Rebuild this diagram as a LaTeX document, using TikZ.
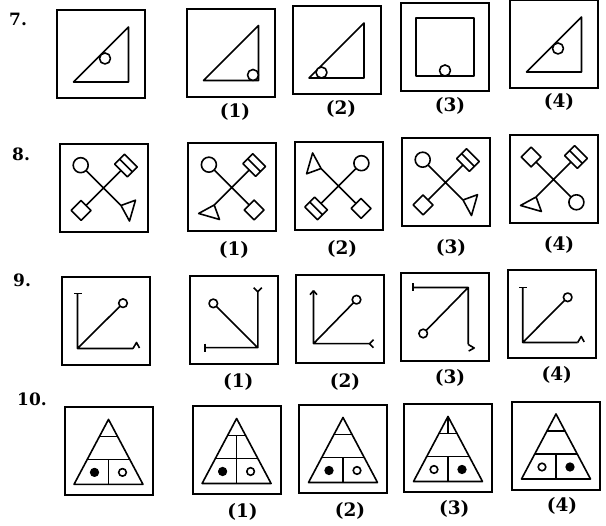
\documentclass[tikz,border=0pt]{standalone}
\usepackage{fontspec}
\setmainfont{DejaVu Serif}
\tikzset{rahmen/.style={draw,line width=2pt,minimum size=88pt,inner sep=0},
  figur/.style={line width=1.6pt,line join=round},
  nummer/.style={anchor=west,inner sep=0,font=\fontsize{17}{20}\selectfont\bfseries},
  antwort/.style={inner sep=0,font=\fontsize{18.5}{22}\selectfont\bfseries},
  voll/.style={fill=black},
  leer/.style={fill=white}}
\newcommand{\feld}[3]{\node[rahmen] (#1) at (#2,#3) {};}
\newcommand{\antwort}[4]{\node[antwort] (#1) at (#2,#3) {(#4)};}
\newcommand{\winkeldreieck}[3]{\begin{scope}[shift={(#1,#2)}]
  \draw[figur] (-27.5,-27.5) -- (27.5,27.5) -- (27.5,-27.5) -- cycle;
  \draw[figur,leer] #3 circle[radius=5.5];
  \end{scope}}
\newcommand{\skreis}{\draw[figur,leer] (7.5,0) circle[radius=7.5];}
\newcommand{\sraute}{\draw[figur] (0,-7) rectangle (14,7);}
\newcommand{\sdoppel}{\draw[figur] (0,-9) rectangle (14,9) (7,-9) -- (7,9);}
\newcommand{\sdreieck}{\draw[figur] (0,0) -- (17,-5) -- (6.5,14) -- cycle;}
\newcommand{\kreuz}[6]{\begin{scope}[shift={(#1,#2)}]
  \draw[figur] (-17.5,17.5) -- (17.5,-17.5) (-17.5,-17.5) -- (17.5,17.5);
  \begin{scope}[shift={(-17.5,17.5)},rotate=135]#3\end{scope}
  \begin{scope}[shift={(17.5,17.5)},rotate=45]#4\end{scope}
  \begin{scope}[shift={(-17.5,-17.5)},rotate=-135]#5\end{scope}
  \begin{scope}[shift={(17.5,-17.5)},rotate=-45]#6\end{scope}
  \end{scope}}
\newcommand{\kappeT}{\draw[figur] (0,-4) -- (0,4);}
\newcommand{\kappeY}{\draw[figur] (0,0) -- (4,4) (0,0) -- (4,-4);}
\newcommand{\kappePfeil}{\draw[figur] (0,0) -- (-4,3.5) (0,0) -- (-4,-3.5);}
\newcommand{\kappeHaken}{\draw[figur] (0,0) -- (3.5,6) -- (6.5,0.5);}
\newcommand{\kappe}[3]{\begin{scope}[shift={#1},rotate=#2]#3\end{scope}}
\newcommand{\pyramide}[5][(0,0)]{\begin{scope}[shift={(#2,#3)}]
  \draw[figur] (0,32) -- (34.5,-33) -- (-34.5,-33) -- cycle;
  \draw[figur] (-9,15) -- (9,15) (-21.2,-8) -- (21.2,-8) (0,-8) -- (0,-33) #1;
  \draw[figur,#4] (-14,-21) circle[radius=3.8];
  \draw[figur,#5] (14,-21) circle[radius=3.8];
  \end{scope}}

\begin{document}
\begin{tikzpicture}[x=1pt,y=1pt]
\useasboundingbox (0,0) rectangle (606,526);
\node[nummer] (n7) at (9,507) {7.};
\feld{q7}{101}{471.5}
\feld{a71}{231}{473}
\feld{a72}{336.5}{475.5}
\feld{a73}{445}{479}
\feld{a74}{554}{481.5}
\winkeldreieck{101}{471.5}{(4,-4)}
\winkeldreieck{231}{473}{(22,-22)}
\winkeldreieck{336.5}{475.5}{(-15,-22)}
\draw[figur] (416,450) rectangle (474,508);
\draw[figur,leer] (445,455.5) circle[radius=5.5];
\winkeldreieck{554}{481.5}{(4,-4)}
\antwort{l71}{235}{414}{1}
\antwort{l72}{341}{417}{2}
\antwort{l73}{450}{420}{3}
\antwort{l74}{559}{424}{4}
\node[nummer] (n8) at (12,372) {8.};
\feld{q8}{103.5}{338}
\feld{a81}{231.7}{338.5}
\feld{a82}{338.6}{340}
\feld{a83}{445.5}{343.5}
\feld{a84}{553.6}{346.5}
\kreuz{103.5}{338}{\skreis}{\sdoppel}{\sraute}{\sdreieck}
\kreuz{231.7}{338.5}{\skreis}{\sdoppel}{\sdreieck}{\sraute}
\kreuz{338.6}{340}{\sdreieck}{\skreis}{\sdoppel}{\sraute}
\kreuz{445.5}{343.5}{\skreis}{\sdoppel}{\sraute}{\sdreieck}
\kreuz{553.6}{346.5}{\sraute}{\sdoppel}{\sdreieck}{\skreis}
\antwort{l81}{234}{276}{1}
\antwort{l82}{342}{277}{2}
\antwort{l83}{451}{278}{3}
\antwort{l84}{559}{281}{4}
\node[nummer] (n9) at (13,246) {9.};
\feld{q9}{105.5}{204.5}
\feld{a91}{233.8}{206.3}
\feld{a92}{339.5}{207.3}
\feld{a93}{445.2}{208.5}
\feld{a94}{552.2}{211.5}
\begin{scope}[shift={(105.5,204.5)}]
  \draw[figur] (-28,28) -- (-28,-27) -- (27.5,-27) (-28,-27) -- (17.5,18.3);
  \kappe{(-28,28)}{90}{\kappeT}
  \kappe{(27.5,-27)}{0}{\kappeHaken}
  \draw[figur,leer] (17.5,18.3) circle[radius=4.3];
\end{scope}
\begin{scope}[shift={(233.8,206.3)}]
  \draw[figur] (24,28) -- (24,-28) -- (-29,-28) (24,-28) -- (-20.5,16.3);
  \kappe{(24,28)}{90}{\kappeY}
  \kappe{(-29,-28)}{180}{\kappeT}
  \draw[figur,leer] (-20.5,16.3) circle[radius=4.3];
\end{scope}
\begin{scope}[shift={(339.5,207.3)}]
  \draw[figur] (-26,28) -- (-26,-25) -- (30,-25) (-26,-25) -- (17,19);
  \kappe{(-26,28)}{90}{\kappePfeil}
  \kappe{(30,-25)}{0}{\kappeY}
  \draw[figur,leer] (17,19) circle[radius=4.3];
\end{scope}
\begin{scope}[shift={(445.2,208.5)}]
  \draw[figur] (-32,30) -- (23,30) -- (23,-27) (23,30) -- (-22,-16);
  \kappe{(-32,30)}{180}{\kappeT}
  \kappe{(23,-27)}{-90}{\kappeHaken}
  \draw[figur,leer] (-22,-16) circle[radius=4.3];
\end{scope}
\begin{scope}[shift={(552.2,211.5)}]
  \draw[figur] (-29.5,27) -- (-29.5,-28) -- (25.5,-28) (-29.5,-28) -- (15.5,17.2);
  \kappe{(-29.5,27)}{90}{\kappeT}
  \kappe{(25.5,-28)}{0}{\kappeHaken}
  \draw[figur,leer] (15.5,17.2) circle[radius=4.3];
\end{scope}
\antwort{l91}{238.3}{144.3}{1}
\antwort{l92}{345}{144.3}{2}
\antwort{l93}{450}{147.7}{3}
\antwort{l94}{556.7}{151}{4}
\node[nummer] (n10) at (17,127) {10.};
\feld{q10}{108.5}{74.6}
\feld{a101}{236.6}{75.5}
\feld{a102}{343}{76.5}
\feld{a103}{448}{77.5}
\feld{a104}{556}{80}
\pyramide{108.5}{74.6}{voll}{leer}
\pyramide[(0,15) -- (0,-8)]{236.6}{75.5}{voll}{leer}
\pyramide{343}{76.5}{voll}{leer}
\pyramide[(0,32) -- (0,15)]{448}{77.5}{leer}{voll}
\pyramide{556}{80}{leer}{voll}
\antwort{l101}{242.5}{14}{1}
\antwort{l102}{350}{15}{2}
\antwort{l103}{454.3}{17}{3}
\antwort{l104}{562}{20}{4}
\end{tikzpicture}
\end{document}
